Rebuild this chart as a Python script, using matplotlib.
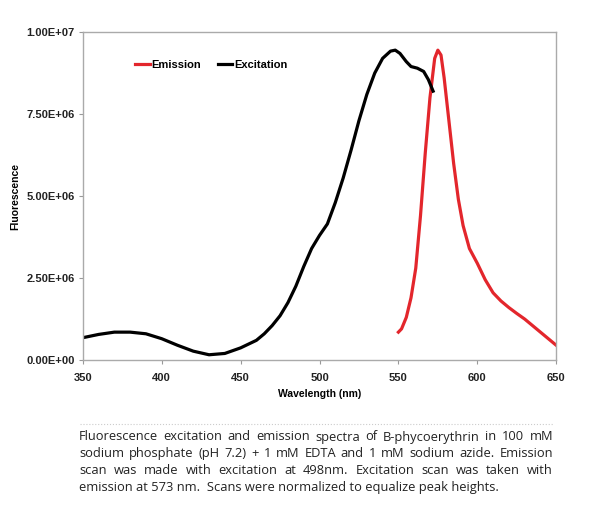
import numpy as np
import matplotlib.pyplot as plt
from matplotlib.ticker import FuncFormatter

# excitation scan (black)
exc_nm = [350, 360, 370, 380, 390, 400, 410, 420, 430, 440, 450, 460, 465, 470, 475,
          480, 485, 490, 495, 500, 505, 510, 515, 520, 525, 530, 535, 540, 545, 548,
          551, 555, 558, 562, 566, 569, 572]
exc_val = [0.68, 0.78, 0.85, 0.85, 0.80, 0.65, 0.45, 0.27, 0.16, 0.20, 0.37, 0.60, 0.80,
           1.05, 1.35, 1.75, 2.25, 2.85, 3.40, 3.80, 4.15, 4.80, 5.55, 6.40, 7.30, 8.10,
           8.75, 9.20, 9.42, 9.45, 9.35, 9.10, 8.95, 8.90, 8.80, 8.55, 8.20]

# emission scan (red)
em_nm = [550, 552, 555, 558, 561, 564, 567, 570, 573, 575, 577, 579, 582, 585, 588, 591,
         595, 600, 605, 610, 615, 620, 625, 630, 635, 640, 645, 650]
em_val = [0.85, 0.95, 1.30, 1.90, 2.80, 4.40, 6.30, 8.00, 9.20, 9.45, 9.30, 8.60, 7.30,
          6.00, 4.90, 4.10, 3.40, 2.95, 2.45, 2.05, 1.80, 1.60, 1.42, 1.25, 1.05, 0.85,
          0.65, 0.45]

y_ticks = [0, 2.5e6, 5e6, 7.5e6, 1e7]
x_ticks = [350, 400, 450, 500, 550, 600, 650]

caption = [
    "Fluorescence excitation and emission spectra of B-phycoerythrin in 100 mM",
    "sodium phosphate (pH 7.2) + 1 mM EDTA and 1 mM sodium azide.  Emission",
    "scan was made with excitation at 498nm.  Excitation scan was taken with",
    "emission at 573 nm.  Scans were normalized to equalize peak heights.",
]

plt.rcParams['font.family'] = ['Liberation Sans', 'DejaVu Sans']

fig = plt.figure(figsize=(6, 5.18), dpi=100)
ax = fig.add_axes([0.138, 0.305, 0.789, 0.633])

ax.plot(em_nm, np.array(em_val) * 1e6, color='#e3262c', lw=2.3, label='Emission')
ax.plot(exc_nm, np.array(exc_val) * 1e6, color='black', lw=2.3, label='Excitation')

ax.set_xlim(350, 650)
ax.set_ylim(0, 1e7)
ax.set_xticks(x_ticks)
ax.set_yticks(y_ticks)
ax.yaxis.set_major_formatter(FuncFormatter(lambda v, p: ('%.2E' % v)))
for lab in ax.get_xticklabels() + ax.get_yticklabels():
    lab.set_fontweight('bold')
ax.tick_params(labelsize=8, color='#999999', length=3, direction='out', colors='#222222')
ax.tick_params(axis='x', pad=6)
ax.tick_params(axis='y', pad=3)
for s in ax.spines.values():
    s.set_color('#aaaaaa')
    s.set_linewidth(1)

ax.set_xlabel('Wavelength (nm)', fontsize=7.5, fontweight='bold', labelpad=5)
ax.set_ylabel('Fluorescence', fontsize=7.5, fontweight='bold', labelpad=4)

leg = ax.legend(loc='upper left', bbox_to_anchor=(0.09, 0.945), ncol=2, frameon=False,
                fontsize=8, handlelength=1.3, handletextpad=0.15, columnspacing=1.5)
for t in leg.get_texts():
    t.set_fontweight('bold')

# divider line above caption
fig.add_artist(plt.Line2D([0.133, 0.922], [1 - 424 / 518, 1 - 424 / 518],
                          color='#cccccc', lw=0.8, ls=':'))

# caption, justified between x0 and x1 (last line left aligned)
fig.canvas.draw()
r = fig.canvas.get_renderer()
x0, x1 = 79, 553
y0 = 1 - 437 / 518
kw = dict(fontsize=9.3, va='center', ha='left', family=['Open Sans', 'DejaVu Sans'],
          color='#222222')
for i, line in enumerate(caption):
    yy = y0 - i * 16.8 / 518
    if i == len(caption) - 1:
        fig.text(x0 / 600, yy, line, **kw)
        continue
    words = line.split()
    ts = [fig.text(0, yy, w, **kw) for w in words]
    widths = [t.get_window_extent(r).width for t in ts]
    gap = (x1 - x0 - sum(widths)) / (len(words) - 1)
    x = x0
    for t, w in zip(ts, widths):
        t.set_x(x / 600)
        x += w + gap

fig.savefig('out.png')
